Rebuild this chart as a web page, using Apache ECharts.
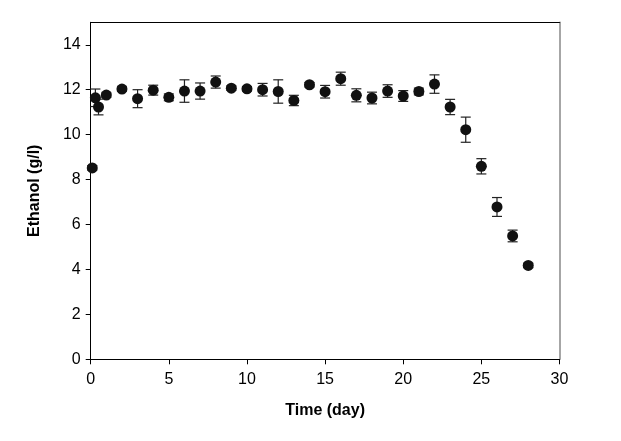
<!DOCTYPE html>
<html>
<head>
<meta charset="utf-8">
<script src="https://cdn.jsdelivr.net/npm/echarts@6/dist/echarts.min.js"></script>
<style>html,body{margin:0;padding:0;background:#fff}#c{width:621px;height:441px}</style>
</head>
<body>
<div id="c"></div>
<script>
const days = [0.1, 0.3, 0.5, 1, 2, 3, 4, 5, 6, 7, 8, 9, 10, 11, 12, 13, 14, 15, 16, 17, 18, 19, 20, 21, 22, 23, 24, 25, 26, 27, 28];
const ethanol = [8.52, 11.64, 11.23, 11.76, 12.03, 11.6, 11.98, 11.66, 11.94, 11.94, 12.34, 12.07, 12.04, 12.0, 11.92, 11.52, 12.22, 11.91, 12.49, 11.75, 11.63, 11.94, 11.72, 11.92, 12.25, 11.23, 10.22, 8.59, 6.78, 5.49, 4.18];
const errors = [0.1, 0.39, 0.35, 0.1, 0.1, 0.4, 0.22, 0.15, 0.5, 0.36, 0.27, 0.1, 0.1, 0.28, 0.52, 0.23, 0.1, 0.28, 0.29, 0.29, 0.26, 0.28, 0.24, 0.15, 0.41, 0.34, 0.56, 0.34, 0.42, 0.26, 0.1];
const xTicks = [0, 5, 10, 15, 20, 25, 30];
const yTicks = [0, 2, 4, 6, 8, 10, 12, 14];

const points = days.map((d, i) => [d, ethanol[i]]);
const errData = days.map((d, i) => [d, ethanol[i] - errors[i], ethanol[i] + errors[i]]);

const font = "'Liberation Sans', Arial, sans-serif";
const chart = echarts.init(document.getElementById('c'), null, {renderer: 'canvas'});
chart.setOption({
  animation: false,
  backgroundColor: '#fff',
  grid: {left: 90.7, right: 61.5, top: 22.3, bottom: 81.7, containLabel: false},
  xAxis: [{
    type: 'value', min: 0, max: 30, interval: 5,
    name: 'Time (day)', nameLocation: 'middle', nameGap: 43,
    nameTextStyle: {fontFamily: font, fontSize: 16, fontWeight: 'bold', color: '#000'},
    axisLine: {show: true, onZero: false, lineStyle: {color: '#000', width: 1}},
    axisTick: {show: true, inside: false, length: 5, lineStyle: {color: '#000'}, customValues: xTicks},
    axisLabel: {fontFamily: font, fontSize: 16, color: '#000', margin: 12, customValues: xTicks},
    splitLine: {show: false}
  }, {
    type: 'value', min: 0, max: 30, position: 'top',
    axisLine: {show: true, onZero: false, lineStyle: {color: '#000', width: 1}},
    axisTick: {show: false}, axisLabel: {show: false}, splitLine: {show: false}
  }],
  yAxis: [{
    type: 'value', min: 0, max: 15, interval: 2,
    name: 'Ethanol (g/l)', nameLocation: 'middle', nameGap: 48, nameRotate: 90,
    nameTextStyle: {fontFamily: font, fontSize: 16, fontWeight: 'bold', color: '#000'},
    axisLine: {show: true, onZero: false, lineStyle: {color: '#000', width: 1}},
    axisTick: {show: true, inside: false, length: 5, lineStyle: {color: '#000'}, customValues: yTicks},
    axisLabel: {fontFamily: font, fontSize: 16, color: '#000', margin: 10, customValues: yTicks},
    splitLine: {show: false}
  }, {
    type: 'value', min: 0, max: 15, position: 'right',
    axisLine: {show: true, onZero: false, lineStyle: {color: '#888', width: 1.5}},
    axisTick: {show: false}, axisLabel: {show: false}, splitLine: {show: false}
  }],
  series: [{
    type: 'custom',
    xAxisIndex: 0, yAxisIndex: 0,
    data: errData,
    z: 1,
    renderItem: function (params, api) {
      const x = api.value(0);
      const lo = api.coord([x, api.value(1)]);
      const hi = api.coord([x, api.value(2)]);
      const hw = 5;
      const st = {stroke: '#222', lineWidth: 1.2};
      return {
        type: 'group',
        children: [
          {type: 'line', shape: {x1: lo[0], y1: lo[1], x2: hi[0], y2: hi[1]}, style: st},
          {type: 'line', shape: {x1: lo[0] - hw, y1: lo[1], x2: lo[0] + hw, y2: lo[1]}, style: st},
          {type: 'line', shape: {x1: hi[0] - hw, y1: hi[1], x2: hi[0] + hw, y2: hi[1]}, style: st}
        ]
      };
    }
  }, {
    type: 'scatter',
    xAxisIndex: 0, yAxisIndex: 0,
    data: points,
    symbol: 'circle', symbolSize: 11,
    itemStyle: {color: '#111', opacity: 1},
    z: 2
  }]
});
</script>
</body>
</html>
